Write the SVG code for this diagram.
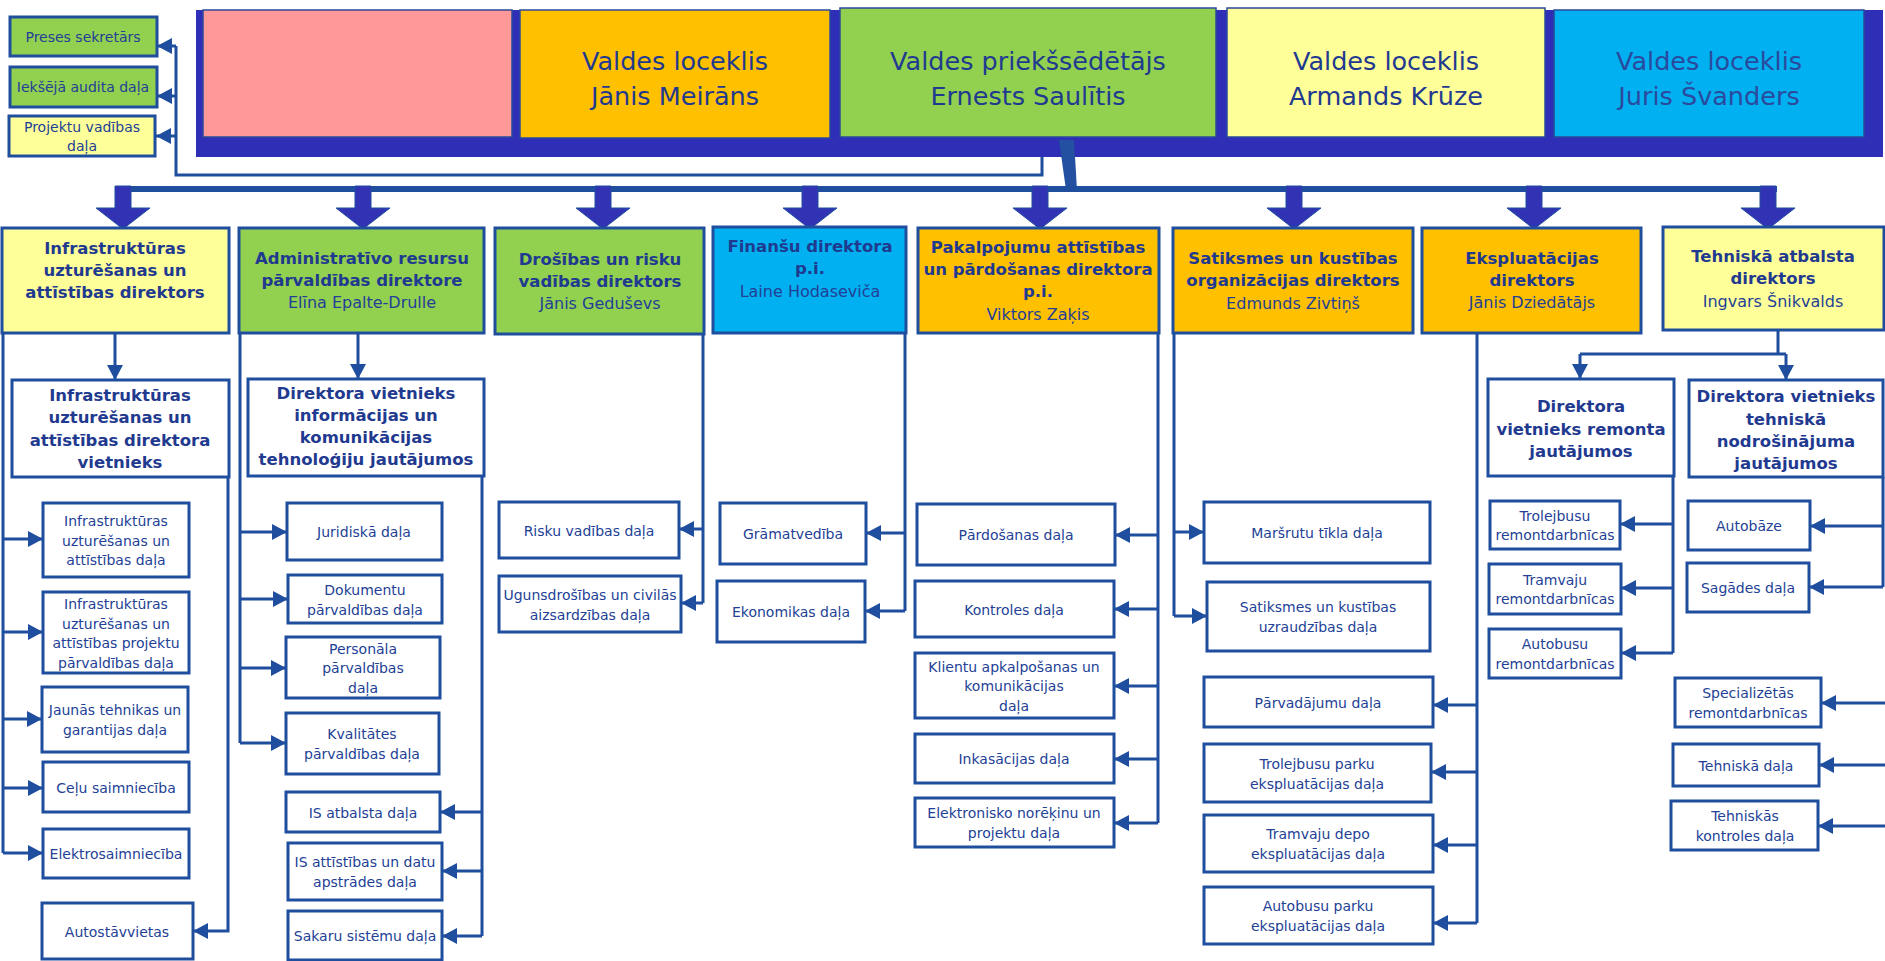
<svg xmlns="http://www.w3.org/2000/svg" width="1885" height="961" viewBox="0 0 1885 961">
<style>
.bx{fill:#fff;stroke:#1F4E9E;stroke-width:3}
.hb{stroke:#1F4E9E;stroke-width:3}
.tp{stroke:#2A4A9B;stroke-width:1.5}
.ln{fill:none;stroke:#1F4E9E;stroke-width:3}
.t{font-family:'DejaVu Sans',Verdana,sans-serif;font-size:14px;fill:#233F96;text-anchor:middle}
.tb{font-family:'DejaVu Sans',Verdana,sans-serif;font-size:16.5px;font-weight:bold;fill:#1F3A8F;text-anchor:middle}
.tn{font-family:'DejaVu Sans',Verdana,sans-serif;font-size:16px;fill:#233F96;text-anchor:middle}
.tt{font-family:'DejaVu Sans',Verdana,sans-serif;font-size:25.5px;fill:#1F3A8F;text-anchor:middle}
.big{fill:#3232B4;stroke:#1F4E9E;stroke-width:1}
.y{fill:#FFFF99}.g{fill:#92D050}.o{fill:#FFC000}.c{fill:#00B0F0}.p{fill:#FF9999}
</style>
<defs>
<marker id="ah" markerUnits="userSpaceOnUse" markerWidth="15" markerHeight="16" refX="15" refY="8" orient="auto">
<path d="M0,0 L15,8 L0,16 z" fill="#1F4E9E"/>
</marker>
</defs>
<rect width="1885" height="961" fill="#fff"/>

<!-- board band -->
<g id="board">
<rect x="196" y="10" width="1687" height="147" fill="#2E2EB6"/>
<g id="board-pink"><rect class="p tp" x="203" y="10" width="309" height="127"/></g>
<g id="board-meirans"><rect class="o tp" x="520" y="10" width="310" height="128"/>
<text class="tt" x="675" y="70">Valdes loceklis</text><text class="tt" x="675" y="105">Jānis Meirāns</text></g>
<g id="board-saulitis"><rect class="g tp" x="840" y="8" width="376" height="129"/>
<text class="tt" x="1028" y="70">Valdes priekšsēdētājs</text><text class="tt" x="1028" y="105">Ernests Saulītis</text></g>
<g id="board-kruze"><rect class="y tp" x="1227" y="8" width="318" height="129"/>
<text class="tt" x="1386" y="70">Valdes loceklis</text><text class="tt" x="1386" y="105">Armands Krūze</text></g>
<g id="board-svanders"><rect class="c tp" x="1554" y="10" width="310" height="127"/>
<text class="tt" x="1709" y="70" style="fill:#2A4A9E">Valdes loceklis</text><text class="tt" x="1709" y="105" style="fill:#2A4A9E">Juris Švanders</text></g>
</g>

<!-- connectors -->
<g id="connectors">
<path d="M1059,140 L1074,140 L1077,190 L1066,190 Z" fill="#2350A0"/>
<rect x="116" y="186" width="1661" height="6" fill="#1F4E9E"/>
<path class="ln" d="M1042,157 V175 H176 V46"/>
<path class="ln" d="M176,46 H157" marker-end="url(#ah)"/>
<path class="ln" d="M176,96 H157" marker-end="url(#ah)"/>
<path class="ln" d="M176,136 H156" marker-end="url(#ah)"/>
<g id="big-arrows">
<path class="big" d="M115,186 H131 V208 H150 L123,229 L96,208 H115 Z"/>
<path class="big" d="M355,186 H371 V208 H390 L363,229 L336,208 H355 Z"/>
<path class="big" d="M595,186 H611 V208 H630 L603,229 L576,208 H595 Z"/>
<path class="big" d="M802,186 H818 V208 H837 L810,229 L783,208 H802 Z"/>
<path class="big" d="M1032,186 H1048 V208 H1067 L1040,229 L1013,208 H1032 Z"/>
<path class="big" d="M1286,186 H1302 V208 H1321 L1294,229 L1267,208 H1286 Z"/>
<path class="big" d="M1526,186 H1542 V208 H1561 L1534,229 L1507,208 H1526 Z"/>
<path class="big" d="M1760,186 H1776 V208 H1795 L1768,229 L1741,208 H1760 Z"/>
</g>
<!-- Infra column -->
<path class="ln" d="M115,333 V380" marker-end="url(#ah)"/>
<path class="ln" d="M3,333 V853"/>
<path class="ln" d="M3,539 H43" marker-end="url(#ah)"/>
<path class="ln" d="M3,632 H43" marker-end="url(#ah)"/>
<path class="ln" d="M3,719 H42" marker-end="url(#ah)"/>
<path class="ln" d="M3,788 H43" marker-end="url(#ah)"/>
<path class="ln" d="M3,853 H43" marker-end="url(#ah)"/>
<path class="ln" d="M228,477 V931 H193" marker-end="url(#ah)"/>
<!-- Admin column -->
<path class="ln" d="M358,333 V379" marker-end="url(#ah)"/>
<path class="ln" d="M240,333 V743"/>
<path class="ln" d="M240,532 H287" marker-end="url(#ah)"/>
<path class="ln" d="M240,599 H288" marker-end="url(#ah)"/>
<path class="ln" d="M240,668 H286" marker-end="url(#ah)"/>
<path class="ln" d="M240,743 H286" marker-end="url(#ah)"/>
<path class="ln" d="M482,476 V936"/>
<path class="ln" d="M482,812 H440" marker-end="url(#ah)"/>
<path class="ln" d="M482,871 H442" marker-end="url(#ah)"/>
<path class="ln" d="M482,936 H442" marker-end="url(#ah)"/>
<!-- Drosibas -->
<path class="ln" d="M703,334 V603"/>
<path class="ln" d="M703,529 H679" marker-end="url(#ah)"/>
<path class="ln" d="M703,603 H681" marker-end="url(#ah)"/>
<!-- Finansu -->
<path class="ln" d="M905,333 V611"/>
<path class="ln" d="M905,533 H866" marker-end="url(#ah)"/>
<path class="ln" d="M905,611 H865" marker-end="url(#ah)"/>
<!-- Pakalpojumu -->
<path class="ln" d="M1158,333 V823"/>
<path class="ln" d="M1158,535 H1115" marker-end="url(#ah)"/>
<path class="ln" d="M1158,609 H1114" marker-end="url(#ah)"/>
<path class="ln" d="M1158,686 H1114" marker-end="url(#ah)"/>
<path class="ln" d="M1158,759 H1114" marker-end="url(#ah)"/>
<path class="ln" d="M1158,823 H1114" marker-end="url(#ah)"/>
<!-- Satiksmes -->
<path class="ln" d="M1174,333 V616"/>
<path class="ln" d="M1174,532 H1204" marker-end="url(#ah)"/>
<path class="ln" d="M1174,616 H1207" marker-end="url(#ah)"/>
<!-- Ekspluatacijas -->
<path class="ln" d="M1477,333 V923"/>
<path class="ln" d="M1477,705 H1433" marker-end="url(#ah)"/>
<path class="ln" d="M1477,772 H1431" marker-end="url(#ah)"/>
<path class="ln" d="M1477,845 H1433" marker-end="url(#ah)"/>
<path class="ln" d="M1477,923 H1433" marker-end="url(#ah)"/>
<!-- Tehniska -->
<path class="ln" d="M1778,330 V354 M1580,354 H1786"/>
<path class="ln" d="M1580,354 V379" marker-end="url(#ah)"/>
<path class="ln" d="M1786,354 V380" marker-end="url(#ah)"/>
<path class="ln" d="M1673,476 V653"/>
<path class="ln" d="M1673,524 H1620" marker-end="url(#ah)"/>
<path class="ln" d="M1673,588 H1621" marker-end="url(#ah)"/>
<path class="ln" d="M1673,653 H1621" marker-end="url(#ah)"/>
<path class="ln" d="M1883,477 V587"/>
<path class="ln" d="M1883,526 H1810" marker-end="url(#ah)"/>
<path class="ln" d="M1883,587 H1809" marker-end="url(#ah)"/>
<path class="ln" d="M1886,703 H1821" marker-end="url(#ah)"/>
<path class="ln" d="M1886,765 H1819" marker-end="url(#ah)"/>
<path class="ln" d="M1886,826 H1818" marker-end="url(#ah)"/>
</g>

<!-- top-left small boxes -->
<g id="preses"><rect class="g hb" x="10" y="17" width="147" height="39"/><text class="t" x="83" y="42">Preses sekretārs</text></g>
<g id="audits"><rect class="g hb" x="10" y="67" width="147" height="40"/><text class="t" x="83" y="92">Iekšējā audita daļa</text></g>
<g id="projekti"><rect class="y hb" x="9" y="116" width="146" height="40"/><text class="t" x="82" y="132">Projektu vadības</text><text class="t" x="82" y="151">daļa</text></g>

<!-- directors -->
<g id="dir-infra"><rect class="y hb" x="2" y="228" width="227" height="105"/>
<text class="tb" x="115" y="254">Infrastruktūras</text><text class="tb" x="115" y="276">uzturēšanas un</text><text class="tb" x="115" y="298">attīstības direktors</text></g>
<g id="dir-admin"><rect class="g hb" x="239" y="228" width="245" height="105"/>
<text class="tb" x="362" y="264">Administratīvo resursu</text><text class="tb" x="362" y="286">pārvaldības direktore</text><text class="tn" x="362" y="308">Elīna Epalte-Drulle</text></g>
<g id="dir-drosiba"><rect class="g hb" x="495" y="228" width="209" height="106"/>
<text class="tb" x="600" y="265">Drošības un risku</text><text class="tb" x="600" y="287">vadības direktors</text><text class="tn" x="600" y="309">Jānis Geduševs</text></g>
<g id="dir-finanses"><rect class="c hb" x="713" y="227" width="193" height="106"/>
<text class="tb" x="810" y="252">Finanšu direktora</text><text class="tb" x="810" y="274">p.i.</text><text class="tn" x="810" y="297">Laine Hodaseviča</text></g>
<g id="dir-pakalpojumi"><rect class="o hb" x="918" y="228" width="241" height="105"/>
<text class="tb" x="1038" y="253">Pakalpojumu attīstības</text><text class="tb" x="1038" y="275">un pārdošanas direktora</text><text class="tb" x="1038" y="297">p.i.</text><text class="tn" x="1038" y="320">Viktors Zaķis</text></g>
<g id="dir-satiksme"><rect class="o hb" x="1173" y="228" width="240" height="105"/>
<text class="tb" x="1293" y="264">Satiksmes un kustības</text><text class="tb" x="1293" y="286">organizācijas direktors</text><text class="tn" x="1293" y="309">Edmunds Zivtiņš</text></g>
<g id="dir-ekspl"><rect class="o hb" x="1422" y="228" width="219" height="105"/>
<text class="tb" x="1532" y="264">Ekspluatācijas</text><text class="tb" x="1532" y="286">direktors</text><text class="tn" x="1532" y="308">Jānis Dziedātājs</text></g>
<g id="dir-tehn"><rect class="y hb" x="1663" y="227" width="221" height="103"/>
<text class="tb" x="1773" y="262">Tehniskā atbalsta</text><text class="tb" x="1773" y="284">direktors</text><text class="tn" x="1773" y="307">Ingvars Šnikvalds</text></g>

<!-- deputies -->
<g id="vietn-infra"><rect class="bx" x="12" y="380" width="217" height="97"/>
<text class="tb" x="120" y="401">Infrastruktūras</text><text class="tb" x="120" y="423">uzturēšanas un</text><text class="tb" x="120" y="446">attīstības direktora</text><text class="tb" x="120" y="468">vietnieks</text></g>
<g id="vietn-ikt"><rect class="bx" x="248" y="379" width="236" height="97"/>
<text class="tb" x="366" y="399">Direktora vietnieks</text><text class="tb" x="366" y="421">informācijas un</text><text class="tb" x="366" y="443">komunikācijas</text><text class="tb" x="366" y="465">tehnoloģiju jautājumos</text></g>
<g id="vietn-remonts"><rect class="bx" x="1488" y="379" width="186" height="97"/>
<text class="tb" x="1581" y="412">Direktora</text><text class="tb" x="1581" y="435">vietnieks remonta</text><text class="tb" x="1581" y="457">jautājumos</text></g>
<g id="vietn-tehn"><rect class="bx" x="1689" y="380" width="194" height="97"/>
<text class="tb" x="1786" y="402">Direktora vietnieks</text><text class="tb" x="1786" y="425">tehniskā</text><text class="tb" x="1786" y="447">nodrošinājuma</text><text class="tb" x="1786" y="469">jautājumos</text></g>

<!-- departments: infra -->
<g id="a1"><rect class="bx" x="43" y="503" width="146" height="74"/><text class="t" x="116" y="526">Infrastruktūras</text><text class="t" x="116" y="545.5">uzturēšanas un</text><text class="t" x="116" y="565">attīstības daļa</text></g>
<g id="a2"><rect class="bx" x="43" y="592" width="146" height="81"/><text class="t" x="116" y="609">Infrastruktūras</text><text class="t" x="116" y="628.5">uzturēšanas un</text><text class="t" x="116" y="648">attīstības projektu</text><text class="t" x="116" y="667.5">pārvaldības daļa</text></g>
<g id="a3"><rect class="bx" x="42" y="687" width="146" height="65"/><text class="t" x="115" y="715">Jaunās tehnikas un</text><text class="t" x="115" y="734.5">garantijas daļa</text></g>
<g id="a4"><rect class="bx" x="43" y="762" width="146" height="50"/><text class="t" x="116" y="792.5">Ceļu saimniecība</text></g>
<g id="a5"><rect class="bx" x="43" y="829" width="146" height="49"/><text class="t" x="116" y="859">Elektrosaimniecība</text></g>
<g id="a6"><rect class="bx" x="42" y="903" width="151" height="56"/><text class="t" x="117" y="936.5">Autostāvvietas</text></g>

<!-- admin -->
<g id="b1"><rect class="bx" x="287" y="503" width="155" height="57"/><text class="t" x="364" y="537">Juridiskā daļa</text></g>
<g id="b2"><rect class="bx" x="288" y="575" width="154" height="48"/><text class="t" x="365" y="595">Dokumentu</text><text class="t" x="365" y="614.5">pārvaldības daļa</text></g>
<g id="b3"><rect class="bx" x="286" y="637" width="154" height="61"/><text class="t" x="363" y="653.5">Personāla</text><text class="t" x="363" y="673">pārvaldības</text><text class="t" x="363" y="692.5">daļa</text></g>
<g id="b4"><rect class="bx" x="286" y="713" width="153" height="61"/><text class="t" x="362" y="739">Kvalitātes</text><text class="t" x="362" y="758.5">pārvaldības daļa</text></g>
<g id="b5"><rect class="bx" x="286" y="792" width="154" height="40"/><text class="t" x="363" y="817.5">IS atbalsta daļa</text></g>
<g id="b6"><rect class="bx" x="288" y="843" width="154" height="57"/><text class="t" x="365" y="867">IS attīstības un datu</text><text class="t" x="365" y="886.5">apstrādes daļa</text></g>
<g id="b7"><rect class="bx" x="288" y="911" width="154" height="49"/><text class="t" x="365" y="941">Sakaru sistēmu daļa</text></g>

<!-- drosiba -->
<g id="c1"><rect class="bx" x="499" y="502" width="180" height="56"/><text class="t" x="589" y="535.5">Risku vadības daļa</text></g>
<g id="c2"><rect class="bx" x="499" y="576" width="182" height="56"/><text class="t" x="590" y="600">Ugunsdrošības un civilās</text><text class="t" x="590" y="619.5">aizsardzības daļa</text></g>

<!-- finanses -->
<g id="d1"><rect class="bx" x="720" y="503" width="146" height="61"/><text class="t" x="793" y="539">Grāmatvedība</text></g>
<g id="d2"><rect class="bx" x="717" y="581" width="148" height="61"/><text class="t" x="791" y="617">Ekonomikas daļa</text></g>

<!-- pakalpojumi -->
<g id="e1"><rect class="bx" x="917" y="504" width="198" height="61"/><text class="t" x="1016" y="540">Pārdošanas daļa</text></g>
<g id="e2"><rect class="bx" x="915" y="581" width="199" height="56"/><text class="t" x="1014" y="614.5">Kontroles daļa</text></g>
<g id="e3"><rect class="bx" x="915" y="653" width="199" height="65"/><text class="t" x="1014" y="671.5">Klientu apkalpošanas un</text><text class="t" x="1014" y="691">komunikācijas</text><text class="t" x="1014" y="710.5">daļa</text></g>
<g id="e4"><rect class="bx" x="915" y="734" width="199" height="49"/><text class="t" x="1014" y="764">Inkasācijas daļa</text></g>
<g id="e5"><rect class="bx" x="915" y="798" width="199" height="49"/><text class="t" x="1014" y="818">Elektronisko norēķinu un</text><text class="t" x="1014" y="837.5">projektu daļa</text></g>

<!-- satiksme -->
<g id="f1"><rect class="bx" x="1204" y="502" width="226" height="61"/><text class="t" x="1317" y="538">Maršrutu tīkla daļa</text></g>
<g id="f2"><rect class="bx" x="1207" y="582" width="223" height="69"/><text class="t" x="1318" y="612">Satiksmes un kustības</text><text class="t" x="1318" y="631.5">uzraudzības daļa</text></g>

<!-- ekspluatacija -->
<g id="g1"><rect class="bx" x="1204" y="677" width="229" height="50"/><text class="t" x="1318" y="707.5">Pārvadājumu daļa</text></g>
<g id="g2"><rect class="bx" x="1204" y="744" width="227" height="58"/><text class="t" x="1317" y="769">Trolejbusu parku</text><text class="t" x="1317" y="788.5">ekspluatācijas daļa</text></g>
<g id="g3"><rect class="bx" x="1204" y="815" width="229" height="57"/><text class="t" x="1318" y="839">Tramvaju depo</text><text class="t" x="1318" y="858.5">ekspluatācijas daļa</text></g>
<g id="g4"><rect class="bx" x="1204" y="887" width="229" height="57"/><text class="t" x="1318" y="911">Autobusu parku</text><text class="t" x="1318" y="930.5">ekspluatācijas daļa</text></g>

<!-- remonts -->
<g id="h1"><rect class="bx" x="1490" y="501" width="130" height="48"/><text class="t" x="1555" y="520.5">Trolejbusu</text><text class="t" x="1555" y="540">remontdarbnīcas</text></g>
<g id="h2"><rect class="bx" x="1489" y="564" width="132" height="50"/><text class="t" x="1555" y="584.5">Tramvaju</text><text class="t" x="1555" y="604">remontdarbnīcas</text></g>
<g id="h3"><rect class="bx" x="1489" y="629" width="132" height="49"/><text class="t" x="1555" y="649">Autobusu</text><text class="t" x="1555" y="668.5">remontdarbnīcas</text></g>

<!-- tehniska -->
<g id="i1"><rect class="bx" x="1688" y="501" width="122" height="49"/><text class="t" x="1749" y="531">Autobāze</text></g>
<g id="i2"><rect class="bx" x="1687" y="563" width="122" height="49"/><text class="t" x="1748" y="593">Sagādes daļa</text></g>
<g id="i3"><rect class="bx" x="1675" y="678" width="146" height="49"/><text class="t" x="1748" y="698">Specializētās</text><text class="t" x="1748" y="717.5">remontdarbnīcas</text></g>
<g id="i4"><rect class="bx" x="1673" y="744" width="146" height="42"/><text class="t" x="1746" y="770.5">Tehniskā daļa</text></g>
<g id="i5"><rect class="bx" x="1671" y="801" width="147" height="49"/><text class="t" x="1745" y="821">Tehniskās</text><text class="t" x="1745" y="840.5">kontroles daļa</text></g>
</svg>
